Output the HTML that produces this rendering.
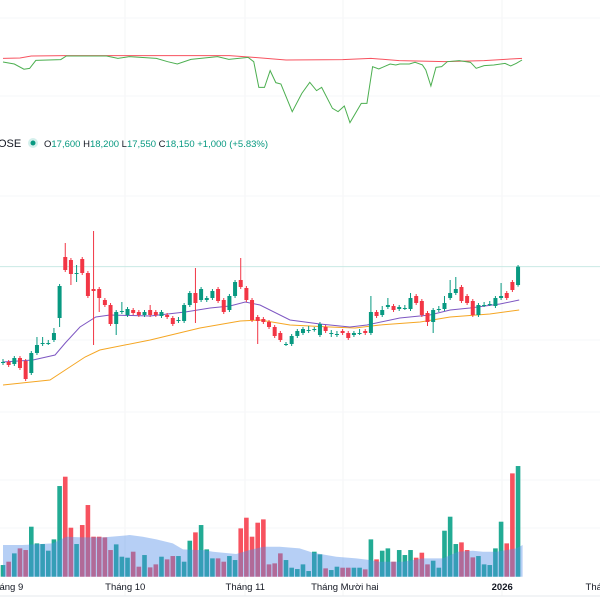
<!DOCTYPE html>
<html><head><meta charset="utf-8"><style>
html,body{margin:0;padding:0;background:#fff;width:600px;height:600px;overflow:hidden}
svg{display:block;font-family:"Liberation Sans",sans-serif}
</style></head><body>
<svg id="c" width="600" height="600" viewBox="0 0 600 600">
 <g id="grid"></g>
 <g id="ind"></g>
 <g id="hdr">
  <text x="-2" y="147" font-size="11" fill="#131722">OSE</text>
  <circle cx="33" cy="143" r="5" fill="#d4f0ec"/>
  <circle cx="33" cy="143" r="2.5" fill="#089981"/>
  <text x="44" y="147" font-size="9.5" fill="#089981"><tspan fill="#131722">O</tspan>17,600 <tspan fill="#131722">H</tspan>18,200 <tspan fill="#131722">L</tspan>17,550 <tspan fill="#131722">C</tspan>18,150 +1,000 (+5.83%)</text>
 </g>
 <g id="vol"></g>
 <g id="price"></g>
 <g id="xaxis"></g>
</svg>
<script>
const openP=[15290,15290,15230,15410,15320,14960,15560,15830,15860,15950,16610,18440,18350,17930,18380,17960,17480,17480,17150,17000,16430,16790,16700,16850,16790,16700,16850,16790,16670,16700,16610,16550,16520,17000,17360,17150,17150,17210,17480,17150,16850,17270,17750,17510,17150,16640,16580,16490,16340,16160,15830,15830,16070,16160,16250,16250,16100,16340,16160,16130,16220,16160,16100,16160,16220,16160,16790,16700,16940,16970,16880,16910,16880,17270,17120,16760,16490,16880,16880,17210,17360,17540,17270,17120,16700,17000,17030,16970,17210,17360,17690,17600];
const closeP=[15290,15200,15410,15110,14780,15560,15800,15860,15860,16160,17570,18050,17930,17960,17960,17270,17420,17210,17000,16430,16790,16820,16880,16760,16700,16790,16700,16700,16790,16640,16430,16550,17000,17360,17060,17480,17210,17420,17120,16790,17270,17690,17540,17150,16550,16520,16490,16340,16070,15950,15830,16070,16220,16280,16250,16280,16430,16220,16160,16130,16160,16010,16160,16160,16160,16790,16670,16850,17000,16850,16940,16910,17210,17060,16700,16490,16850,16880,17060,17360,17480,17120,17060,16700,17000,17000,17030,17210,17270,17210,17450,18150];
const highP=[15380,15350,15470,15470,15380,15620,16040,16040,15950,16310,17630,18860,18410,18200,18440,18020,19220,17540,17210,17060,16850,17090,16940,16910,16850,16850,17000,16850,16850,16760,16670,16640,17060,17420,18110,17540,17270,17480,17540,17210,17330,17750,18410,17570,17210,16700,16640,16550,16400,16220,15890,16130,16280,16340,16370,16340,16490,16400,16250,16220,16280,16220,16220,16280,16280,17270,16850,16970,17210,17030,17000,17000,17360,17330,17180,16820,16910,16970,17270,17750,17840,17600,17330,17180,17060,17090,17120,17270,17660,17420,17750,18200];
const lowP=[15200,15140,15170,15050,14720,14900,15500,15770,15800,15890,16340,17990,17600,17690,17900,17210,15800,16790,16940,16370,16100,16730,16640,16700,16640,16640,16640,16640,16610,16580,16370,16460,16460,16940,16460,17090,17090,17150,17060,16730,16790,17210,17480,17090,16490,15830,16430,16280,16010,15890,15770,15770,16010,16100,16160,16200,16040,16160,16040,16040,16100,15950,16040,16100,16100,16100,16610,16640,16880,16790,16820,16850,16820,17000,16640,16370,16160,16790,16820,17150,17300,17060,17000,16640,16640,16940,16970,16910,17150,17150,17390,17550];
const volumes=[350,450,700,850,800,1500,1000,980,780,1120,2720,3000,1470,980,1550,2150,1200,1200,1180,800,970,600,570,750,300,650,280,370,600,520,620,620,450,1080,1330,1550,820,550,550,450,620,500,1450,1770,1200,1620,1720,370,400,700,500,270,230,370,170,750,670,250,200,300,270,270,270,270,220,1120,520,780,850,450,800,650,800,570,720,370,480,270,1380,1800,980,1030,800,580,620,370,350,850,1650,1000,3100,3320];
const volMaIdx=[0,3.5,8.8,11.2,14.1,17.7,20.6,22.4,24.7,27.1,30,31.8,34.2,35.3,37.1,41.2,43.6,46,48.9,52.4,54.8,58.9,62.4,64.8,66.5,70.7,74.2,77.7,80.4,83,84.8,87.2,90.7,91.8];
const volMaVal=[950,950,1000,1200,1180,1180,1220,1250,1200,1120,1000,820,800,800,750,680,800,900,900,850,720,600,550,500,450,450,550,550,750,780,750,750,850,950];
const ma20Idx=[0,5.3,9.2,11,13.6,16.4,18.9,26,32.2,36.6,40.1,42.8,45.4,50.7,56,61.3,64.3,70.1,75.4,79,82.5,87.8,91.2];
const ma20Val=[15290,15350,15500,15860,16340,16640,16700,16670,16790,16910,16970,17090,17000,16550,16430,16340,16400,16610,16700,16850,16910,17030,17150];
const ma50Idx=[0,8.3,11,14.5,17.1,26,34.8,41.9,45.4,50.7,57.8,62.2,66.6,73.7,79,86,91.2];
const ma50Val=[14600,14750,15050,15440,15650,15950,16310,16520,16550,16400,16340,16310,16400,16490,16640,16730,16850];
const oscIdx=[0,2,3.7,4.7,5.8,10.2,11.2,18.3,20.3,22.3,27.1,29.1,30.8,33.2,37.9,39.9,43.3,44.3,45.2,46.2,47.2,48.2,49.1,51.1,52.8,54.2,55.4,56.3,58.2,59.2,60.3,61.3,63.3,64.3,65.3,66.4,68.4,69.4,70.1,71.8,72.8,74.1,74.7,75.6,76.5,77.5,78.5,80.6,82.6,83.6,85,86.7,88.7,89.7,90.7,91.7];
const oscVal=[85,82.5,76,77,87,88,92.5,92.5,89.5,91.7,89.5,85.4,82.5,88.3,91.7,88.3,90.8,85.4,53.3,53.3,74.2,59.2,57.5,22.9,45.8,59.6,49.2,53.3,27.1,22.9,30,9.2,33.3,33.3,79.2,76.3,82.5,81.3,82.5,82.5,84.6,81.3,75,55,78.3,79.2,85.4,86.7,84.6,77.1,80.4,81.3,83.3,80,83.3,87.5];
const sigIdx=[0,3,5,11,40,44,50,60,65,70,78,85,91.7];
const sigVal=[89.6,90,92.5,93,93,91,87.5,88,89.6,86.7,85.4,86.7,89.6];
const monthLabels=["Tháng 9","Tháng 10","Tháng 11","Tháng Mười hai","2026","Tháng 2"];
const monthIdx=[0.5,21.6,42.8,60.4,88.2,106];

const NS="http://www.w3.org/2000/svg";
const xs=i=>3+i*5.66;
const yp=p=>(26150-p)/30;
const yv=v=>576.7-v/30;
const yo=v=>130-v*0.8;
function mk(tag,attrs,parent){const e=document.createElementNS(NS,tag);for(const k in attrs)e.setAttribute(k,attrs[k]);parent.appendChild(e);return e;}
const G=id=>document.getElementById(id);

const grid=G('grid');
[125,245,343,502].forEach(x=>{const l=mk('line',{x1:x,x2:x,y1:0,y2:596,stroke:'#f3f4f6','stroke-width':1},grid);

});
[18,96,196,340,412,480,528].forEach(y=>{const l=mk('line',{x1:0,x2:600,y1:y,y2:y,stroke:'#f6f7f9','stroke-width':1},grid);

});
const pl=mk('line',{x1:0,x2:600,y1:yp(18150),y2:yp(18150),stroke:'#c9e9e4','stroke-width':1},grid);


const sep=mk('line',{x1:0,x2:600,y1:596,y2:596,stroke:'#e6e8ec','stroke-width':1},grid);



const ind=G('ind');
const sl=mk('polyline',{points:sigIdx.map((d,i)=>xs(d)+','+yo(sigVal[i])).join(' '),fill:'none',stroke:'#f7525f','stroke-width':1},ind);


const ol=mk('polyline',{points:oscIdx.map((d,i)=>xs(d)+','+yo(oscVal[i])).join(' '),fill:'none',stroke:'#4caf50','stroke-width':1},ind);



const vol=G('vol');
volumes.forEach((v,i)=>{const up=closeP[i]>=openP[i];
const r=mk('rect',{x:xs(i)-2.3,y:yv(v),width:4.6,height:576.7-yv(v),fill:up?'#22ab94':'#f7525f'},vol);

});
const ad='M'+xs(volMaIdx[0])+',576.7 '+volMaIdx.map((d,i)=>'L'+xs(d)+','+yv(volMaVal[i])).join(' ')+' L'+xs(volMaIdx[volMaIdx.length-1])+',576.7 Z';
const area=mk('path',{d:ad,fill:'rgba(80,140,230,0.42)'},vol);



const pr=G('price');
const m50=mk('polyline',{points:ma50Idx.map((d,i)=>xs(d)+','+yp(ma50Val[i])).join(' '),fill:'none',stroke:'#f5a623','stroke-width':1},pr);


const m20=mk('polyline',{points:ma20Idx.map((d,i)=>xs(d)+','+yp(ma20Val[i])).join(' '),fill:'none',stroke:'#7e57c2','stroke-width':1},pr);


openP.forEach((o,i)=>{const c=closeP[i],up=c>=o,col=up?'#089981':'#f23645',x=xs(i);
const g=mk('g',{},pr);


mk('line',{x1:x,x2:x,y1:yp(highP[i]),y2:yp(lowP[i]),stroke:col,'stroke-width':1},g);
const t=Math.min(yp(o),yp(c)),h=Math.max(1,Math.abs(yp(o)-yp(c)));
mk('rect',{x:x-2,y:t,width:4,height:h,fill:col},g);});

const xa=G('xaxis');
monthLabels.forEach((t,i)=>{const e=mk('text',{x:xs(monthIdx[i]),y:590,'font-size':9.5,fill:'#131722','text-anchor':'middle','font-weight':t==='2026'?'bold':'normal'},xa);
e.textContent=t;

});
</script>
</body></html>
